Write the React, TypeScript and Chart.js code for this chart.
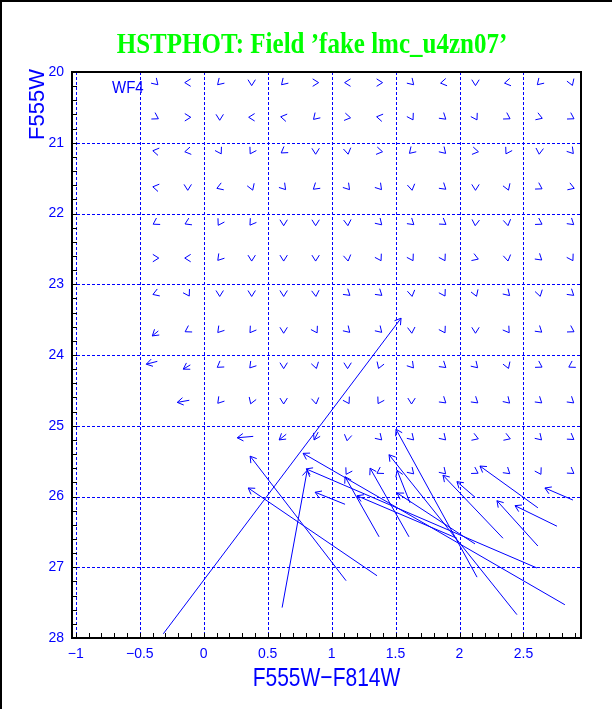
import React, { useEffect, useRef } from 'react';
import { Chart, registerables } from 'chart.js';

Chart.register(...registerables);

const TITLE = 'HSTPHOT: Field ’fake lmc_u4zn07’';
const X_TITLE = 'F555W−F814W';
const Y_TITLE = 'F555W';
const CHIP_LABEL = 'WF4';

const X_MIN = -1.03;
const X_MAX = 2.95;
const Y_MIN = 20;
const Y_MAX = 28;
const X_TICKS = [-1, -0.5, 0, 0.5, 1, 1.5, 2, 2.5];
const Y_TICKS = [20, 21, 22, 23, 24, 25, 26, 27, 28];
const X_MINOR_STEP = 0.1;
const Y_MINOR_STEP = 0.2;

// Input grid of artificial stars (colour columns, magnitude rows)
const GRID_COLORS = [-0.375, -0.125, 0.125, 0.375, 0.625, 0.875, 1.125, 1.375, 1.625, 1.875, 2.125, 2.375, 2.625, 2.875];
const GRID_MAGS = [20.15, 20.64, 21.12, 21.63, 22.13, 22.63, 23.13, 23.65, 24.15, 24.65, 25.17, 25.65];
// Direction of the tiny shift of each grid star (screen degrees, 0 = right, 90 = down); null = no small arrow
const GRID_DIRS: (number | null)[][] = [
  [45, 180, 135, 90, 135, 0, 180, 0, 45, 170, 90, 170, 135, 70],
  [30, 0, 90, 180, 190, 135, 10, 190, 60, 40, 60, 30, 20, 30],
  [190, 170, 60, 120, 145, 90, 80, 10, 135, 45, 10, 120, 95, 50],
  [190, 90, 160, 70, 50, 140, 50, 50, 80, 40, 90, 70, 30, 20],
  [150, 155, 120, 125, 90, 90, 85, 45, 40, 35, 95, 80, 30, 40],
  [0, 180, 130, 90, 90, 90, 80, 60, 60, 60, 20, 80, 40, 60],
  [160, 60, 90, 90, 90, 85, 40, 40, 80, 60, 70, 45, 75, 40],
  [null, 150, 130, 125, 90, 60, 45, 45, 85, 60, 90, 55, 40, 30],
  [null, null, 145, 130, 90, 75, 90, 110, 50, 40, 45, 70, 30, 150],
  [null, null, 130, 110, 90, 80, 60, 120, 90, 40, 40, 45, 40, 40],
  [null, null, null, null, null, null, 100, 45, 45, 45, 20, 20, 45, 35],
  [null, null, null, null, null, null, 120, 150, 45, 45, 30, 40, 60, 35],
];

// Larger shifts: arrow from tail (x0, y0) to head (x1, y1)
const TAIL_X = [-0.355, -0.363, -0.105, -0.113, 0.387, 0.645, 0.895, -0.316, 0.613, 1.113, 1.355, 1.105, 2.824, 2.605, 1.371, 1.605, 2.121, 2.137, 2.449, 2.340, 2.121, 2.613, 2.613, 2.762, 2.887, 1.613, 1.980];
const TAIL_Y = [23.66, 24.09, 24.14, 24.64, 25.15, 25.12, 25.09, 27.94, 27.57, 27.19, 27.12, 26.11, 27.53, 27.01, 26.57, 26.57, 26.67, 27.14, 27.67, 26.59, 26.01, 26.16, 26.70, 26.42, 26.05, 26.09, 26.59];
const HEAD_X = [-0.402, -0.449, -0.160, -0.207, 0.262, 0.590, 0.863, 1.543, 0.809, 0.363, 0.348, 0.871, 0.777, 0.801, 1.105, 1.301, 1.512, 1.504, 1.449, 1.871, 1.980, 2.160, 2.293, 2.434, 2.668, 1.512, 1.199];
const HEAD_Y = [23.73, 24.13, 24.20, 24.67, 25.17, 25.20, 25.20, 23.48, 25.63, 25.43, 25.88, 25.94, 25.39, 25.61, 25.72, 25.60, 25.95, 25.05, 25.41, 25.70, 25.79, 25.57, 26.06, 26.13, 25.88, 25.63, 25.99];

const BLUE = '#0000ff';
const GREEN = '#00ff00';
const SANS = '"Liberation Sans", Arial, sans-serif';
const SERIF = '"Liberation Serif", "Times New Roman", serif';

const fmt = (v: number) => (v < 0 ? '−' + String(Math.abs(v)) : String(v));

function head(ctx: CanvasRenderingContext2D, tx: number, ty: number, ang: number) {
  const L = 7;
  const half = (32 * Math.PI) / 180;
  ctx.moveTo(tx + L * Math.cos(ang + Math.PI - half), ty + L * Math.sin(ang + Math.PI - half));
  ctx.lineTo(tx, ty);
  ctx.lineTo(tx + L * Math.cos(ang + Math.PI + half), ty + L * Math.sin(ang + Math.PI + half));
}

export default function App() {
  const ref = useRef<HTMLCanvasElement>(null);

  useEffect(() => {
    const canvas = ref.current;
    if (!canvas) return;
    document.body.style.margin = '0';

    const plot = {
      id: 'hstphotPlot',
      beforeDraw(chart: any) {
        const { ctx, width, height } = chart;
        ctx.save();
        ctx.fillStyle = '#ffffff';
        ctx.fillRect(0, 0, width, height);
        ctx.restore();
      },
      beforeDatasetsDraw(chart: any) {
        const { ctx, chartArea: a, scales } = chart;
        ctx.save();
        ctx.strokeStyle = BLUE;
        ctx.lineWidth = 1;
        ctx.setLineDash([3, 2]);
        ctx.beginPath();
        for (const v of X_TICKS) {
          const p = Math.round(scales.x.getPixelForValue(v)) + 0.5;
          ctx.moveTo(p, a.top);
          ctx.lineTo(p, a.bottom);
        }
        for (const v of Y_TICKS) {
          if (v === Y_MIN || v === Y_MAX) continue;
          const p = Math.round(scales.y.getPixelForValue(v)) + 0.5;
          ctx.moveTo(a.left, p);
          ctx.lineTo(a.right, p);
        }
        ctx.stroke();
        ctx.restore();
      },
      afterDatasetsDraw(chart: any) {
        const { ctx, chartArea: a, scales } = chart;
        const xs = scales.x;
        const ys = scales.y;
        ctx.save();
        ctx.beginPath();
        ctx.rect(a.left, a.top, a.right - a.left, a.bottom - a.top);
        ctx.clip();
        ctx.strokeStyle = BLUE;
        ctx.lineWidth = 1;
        ctx.setLineDash([]);
        ctx.beginPath();
        // small shifts on the input grid
        GRID_MAGS.forEach((m, r) => {
          GRID_COLORS.forEach((c, k) => {
            const d = GRID_DIRS[r][k];
            if (d === null) return;
            const ang = (d * Math.PI) / 180;
            const px = xs.getPixelForValue(c) + 3 * Math.cos(ang);
            const py = ys.getPixelForValue(m) + 3 * Math.sin(ang);
            head(ctx, px, py, ang);
          });
        });
        // larger shifts
        TAIL_X.forEach((x0, i) => {
          const tx = xs.getPixelForValue(x0);
          const ty = ys.getPixelForValue(TAIL_Y[i]);
          const hx = xs.getPixelForValue(HEAD_X[i]);
          const hy = ys.getPixelForValue(HEAD_Y[i]);
          ctx.moveTo(tx, ty);
          ctx.lineTo(hx, hy);
          head(ctx, hx, hy, Math.atan2(hy - ty, hx - tx));
        });
        ctx.stroke();
        ctx.restore();

        // frame and inward ticks
        ctx.save();
        ctx.strokeStyle = '#000000';
        ctx.lineWidth = 2;
        ctx.strokeRect(a.left, a.top, a.right - a.left, a.bottom - a.top);
        ctx.lineWidth = 1;
        ctx.beginPath();
        for (let i = Math.round(X_TICKS[0] / X_MINOR_STEP); i * X_MINOR_STEP < X_MAX; i++) {
          const p = Math.round(xs.getPixelForValue(i * X_MINOR_STEP)) + 0.5;
          ctx.moveTo(p, a.bottom);
          ctx.lineTo(p, a.bottom - 5);
        }
        for (let i = 0; Y_MIN + i * Y_MINOR_STEP <= Y_MAX + 1e-6; i++) {
          const p = Math.round(ys.getPixelForValue(Y_MIN + i * Y_MINOR_STEP)) + 0.5;
          ctx.moveTo(a.left, p);
          ctx.lineTo(a.left + 5, p);
        }
        ctx.stroke();
        ctx.restore();
      },
      afterDraw(chart: any) {
        const { ctx, chartArea: a, width, height } = chart;
        ctx.save();
        // outer border (left and top)
        ctx.fillStyle = '#000000';
        ctx.fillRect(0, 0, width, 2);
        ctx.fillRect(0, 0, 2, height);

        // main title
        ctx.fillStyle = GREEN;
        ctx.font = `bold 25px ${SERIF}`;
        ctx.textAlign = 'center';
        ctx.textBaseline = 'alphabetic';
        ctx.save();
        ctx.translate(width / 2 + 6, 53);
        ctx.scale(1, 1.15);
        ctx.fillText(TITLE, 0, 0);
        ctx.restore();

        // x title
        ctx.fillStyle = BLUE;
        ctx.font = `21px ${SANS}`;
        ctx.save();
        ctx.translate((a.left + a.right) / 2, 686);
        ctx.scale(1, 1.25);
        ctx.fillText(X_TITLE, 0, 0);
        ctx.restore();

        // y title, ending at the top of the axis
        ctx.save();
        ctx.font = `22px ${SANS}`;
        ctx.textAlign = 'left';
        ctx.translate(44, 140);
        ctx.rotate(-Math.PI / 2);
        ctx.fillText(Y_TITLE, 0, 0);
        ctx.restore();

        // chip label
        ctx.save();
        ctx.font = `15px ${SANS}`;
        ctx.textAlign = 'left';
        ctx.translate(112, 93);
        ctx.scale(1, 1.1);
        ctx.fillText(CHIP_LABEL, 0, 0);
        ctx.restore();
        ctx.restore();
      },
    };

    const chart = new Chart(canvas, {
      type: 'scatter',
      data: {
        datasets: [
          {
            data: HEAD_X.map((x, i) => ({ x, y: HEAD_Y[i] })),
            pointRadius: 0,
            showLine: false,
          },
        ],
      },
      options: {
        responsive: false,
        animation: false,
        events: [],
        layout: { padding: { top: 72, right: 31, left: 0, bottom: 0 } },
        plugins: {
          legend: { display: false },
          tooltip: { enabled: false },
          title: { display: false },
        },
        scales: {
          x: {
            type: 'linear',
            min: X_MIN,
            max: X_MAX,
            afterBuildTicks: (s: any) => {
              s.ticks = X_TICKS.map((v) => ({ value: v }));
            },
            afterFit: (s: any) => {
              s.height = 71;
            },
            grid: { display: false, drawTicks: false },
            border: { display: false },
            ticks: {
              color: BLUE,
              font: { family: SANS, size: 14 },
              padding: 8,
              maxRotation: 0,
              autoSkip: false,
              callback: (v: any) => fmt(Number(v)),
            },
          },
          y: {
            type: 'linear',
            reverse: true,
            min: Y_MIN,
            max: Y_MAX,
            afterBuildTicks: (s: any) => {
              s.ticks = Y_TICKS.map((v) => ({ value: v }));
            },
            afterFit: (s: any) => {
              s.width = 72;
            },
            grid: { display: false, drawTicks: false },
            border: { display: false },
            ticks: {
              color: BLUE,
              font: { family: SANS, size: 14 },
              padding: 8,
              autoSkip: false,
              callback: (v: any) => String(v),
            },
          },
        },
      } as any,
      plugins: [plot],
    });

    return () => chart.destroy();
  }, []);

  return (
    <div style={{ position: 'absolute', left: 0, top: 0, width: 612, height: 709, background: '#fff' }}>
      <canvas ref={ref} width={612} height={709} style={{ display: 'block', width: 612, height: 709 }} />
    </div>
  );
}
